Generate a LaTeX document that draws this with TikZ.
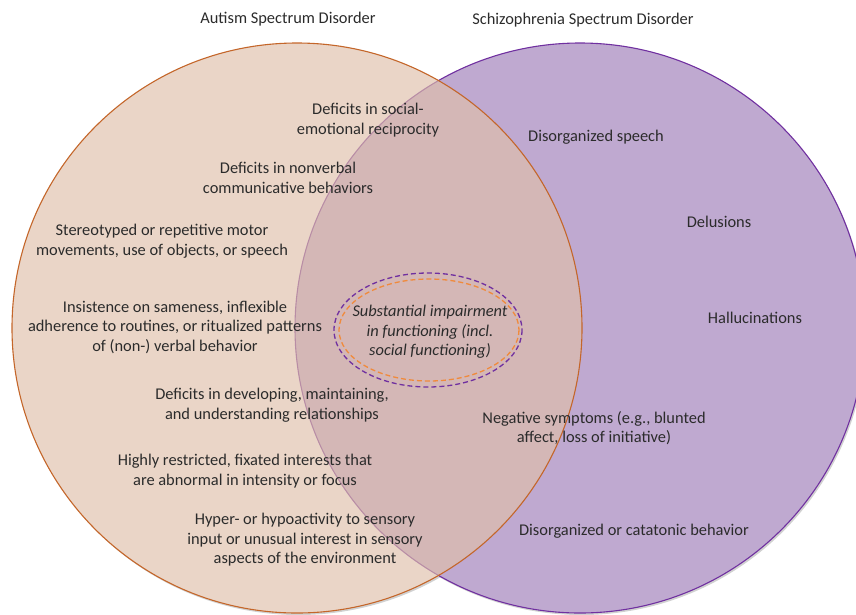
\documentclass[tikz,border=0pt]{standalone}
\usepackage{fontspec}
\setmainfont{Carlito}
\definecolor{asdfill}{HTML}{E0C0A9}
\definecolor{asdline}{HTML}{C4662A}
\definecolor{ssdfill}{HTML}{BFA9D0}
\definecolor{ssdline}{HTML}{7030A0}
\definecolor{dashorange}{HTML}{F08A3C}
\definecolor{txt}{HTML}{2B2B2B}
\tikzset{
  lbl/.style={align=center, text=txt, inner sep=0pt, font=\fontsize{16.4}{19.5}\selectfont},
  shadowring/.style={fill=black!18, draw=none},
  coreline/.style={dash pattern=on 5pt off 3pt, line width=1.3pt}
}
\begin{document}
\begin{tikzpicture}[x=1pt,y=-1pt]
\useasboundingbox (0,0) rectangle (856,614);
\clip (0,0) rectangle (856,614);
% circles
\coordinate (asd) at (297,328);
\coordinate (ssd) at (580,328);
\fill[shadowring] ([shift={(1.5,2)}]ssd) circle (285);
\fill[shadowring] ([shift={(1.5,2)}]asd) circle (285);
\fill[white] (asd) circle (285);
\draw[fill=ssdfill, draw=ssdline, line width=1.1pt] (ssd) circle (285);
\fill[asdfill, opacity=0.65] (asd) circle (285);
\draw[asdline, line width=1.1pt] (asd) circle (285);
% shared core
\draw[ssdline, coreline] (428,330) ellipse (94 and 57);
\draw[dashorange, coreline] (429,330) ellipse (90 and 51);
% headings
\node[lbl] (asdtitle) at (288,19) {Autism Spectrum Disorder};
\node[lbl] (ssdtitle) at (583,20) {Schizophrenia Spectrum Disorder};
% autism criteria
\node[lbl] (social) at (368,120) {Deficits in social-\\emotional reciprocity};
\node[lbl] (nonverbal) at (288,178) {Deficits in nonverbal\\communicative behaviors};
\node[lbl] (motor) at (162,241) {Stereotyped or repetitive motor\\movements, use of objects, or speech};
\node[lbl] (sameness) at (175,327) {Insistence on sameness, inflexible\\adherence to routines, or ritualized patterns\\of (non-) verbal behavior};
\node[lbl] (relations) at (272,405) {Deficits in developing, maintaining,\\and understanding relationships};
\node[lbl] (interests) at (245,471) {Highly restricted, fixated interests that\\are abnormal in intensity or focus};
\node[lbl] (sensory) at (305,540) {Hyper- or hypoactivity to sensory\\input or unusual interest in sensory\\aspects of the environment};
% schizophrenia criteria
\node[lbl] (speech) at (596,137) {Disorganized speech};
\node[lbl] (delusions) at (719,222) {Delusions};
\node[lbl] (hallu) at (755,318) {Hallucinations};
\node[lbl] (negative) at (594,428) {Negative symptoms (e.g., blunted\\affect, loss of initiative)};
\node[lbl] (catatonic) at (634,531) {Disorganized or catatonic behavior};
\node[lbl, font=\fontsize{16.4}{19.5}\selectfont\itshape] (impair) at (430,332) {Substantial impairment\\in functioning (incl.\\social functioning)};
\end{tikzpicture}
\end{document}
